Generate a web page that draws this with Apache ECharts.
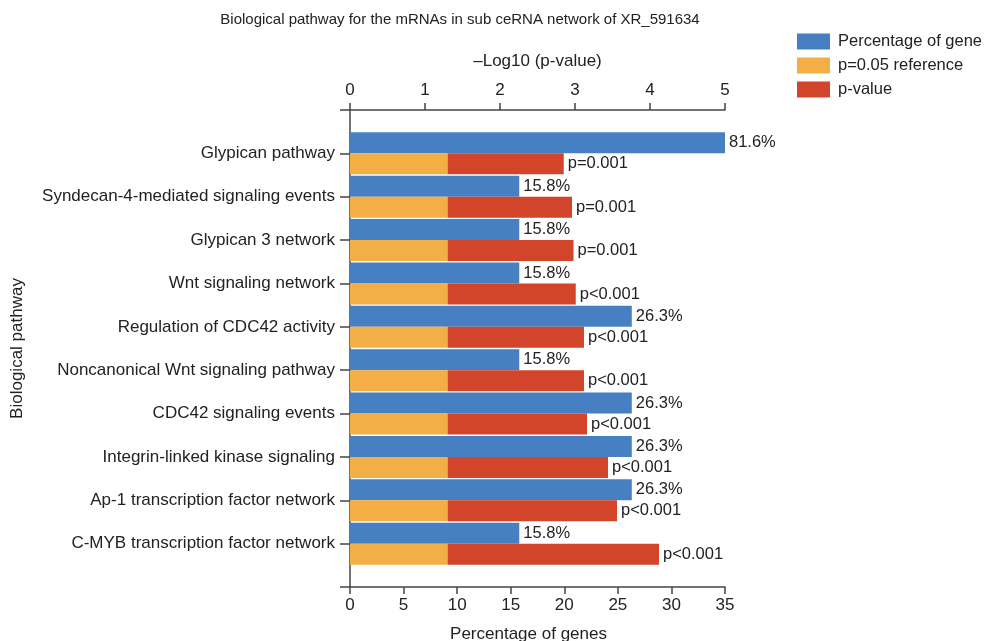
<!DOCTYPE html>
<html>
<head>
<meta charset="utf-8">
<script src="https://cdn.jsdelivr.net/npm/echarts@6/dist/echarts.min.js"></script>
<style>
  html, body { margin: 0; padding: 0; background: #fff; }
  #chart { width: 985px; height: 641px; }
</style>
</head>
<body>
<div id="chart"></div>
<script>
// Pathways, top to bottom
const categories = [
  'Glypican pathway',
  'Syndecan-4-mediated signaling events',
  'Glypican 3 network',
  'Wnt signaling network',
  'Regulation of CDC42 activity',
  'Noncanonical Wnt signaling pathway',
  'CDC42 signaling events',
  'Integrin-linked kinase signaling',
  'Ap-1 transcription factor network',
  'C-MYB transcription factor network'
];
// Percentage of genes in each pathway
const genePercent = [81.6, 15.8, 15.8, 15.8, 26.3, 15.8, 26.3, 26.3, 26.3, 15.8];
// -log10(p-value) for each pathway
const negLogP = [2.85, 2.96, 2.98, 3.01, 3.12, 3.12, 3.16, 3.44, 3.56, 4.12];
// Printed p-value text
const pLabels = ['p=0.001', 'p=0.001', 'p=0.001', 'p<0.001', 'p<0.001',
                 'p<0.001', 'p<0.001', 'p<0.001', 'p<0.001', 'p<0.001'];
// -log10(0.05) reference threshold
const refNegLog = 1.301;

// Axis ranges
const pctAxis = { min: 0, max: 35, interval: 5 };
const logAxis = { min: 0, max: 5, interval: 1 };

const FONT = "'Liberation Sans', Arial, sans-serif";
const TEXT = '#222';
const LINE = '#444';
const AXIS_FS = 17;
const LABEL_FS = 16.5;

// One empty slot above and below so the pathways sit inside the frame
const yData = [''].concat(categories, ['']);
const pad = arr => [null].concat(arr, [null]);

const refData = pad(categories.map(() => refNegLog));
const pExcess = pad(negLogP.map(v => +(v - refNegLog).toFixed(3)));

const chart = echarts.init(document.getElementById('chart'), null, { renderer: 'canvas' });

const valueAxisCommon = {
  type: 'value',
  splitLine: { show: false },
  axisLine: { show: true, lineStyle: { color: LINE, width: 1.5 } },
  axisTick: { show: true, length: 7, lineStyle: { color: LINE, width: 1.5 } },
  nameLocation: 'middle'
};

chart.setOption({
  animation: false,
  backgroundColor: '#fff',
  textStyle: { fontFamily: FONT },
  title: {
    text: 'Biological pathway for the mRNAs in sub ceRNA network of XR_591634',
    left: 455,
    textAlign: 'center',
    top: 7,
    textStyle: { color: TEXT, fontSize: 15, fontWeight: 'normal', fontFamily: FONT }
  },
  legend: {
    orient: 'vertical',
    left: 797,
    top: 33,
    padding: 0,
    itemWidth: 33,
    itemHeight: 16,
    itemGap: 7,
    icon: 'rect',
    textStyle: { color: TEXT, fontSize: LABEL_FS, fontFamily: FONT, padding: [0, 0, 0, 3] },
    data: ['Percentage of gene', 'p=0.05 reference', 'p-value']
  },
  grid: { left: 350, right: 260, top: 110, bottom: 54, containLabel: false, outerBoundsMode: 'none' },
  xAxis: [
    Object.assign({}, valueAxisCommon, {
      position: 'bottom',
      min: pctAxis.min, max: pctAxis.max, interval: pctAxis.interval,
      name: 'Percentage of genes',
      nameGap: 39,
      nameTextStyle: { color: TEXT, fontSize: AXIS_FS, fontFamily: FONT, padding: [0, 18, 0, 0] },
      axisLabel: { color: TEXT, fontSize: AXIS_FS, fontFamily: FONT, margin: 10 }
    }),
    Object.assign({}, valueAxisCommon, {
      position: 'top',
      min: logAxis.min, max: logAxis.max, interval: logAxis.interval,
      name: '\u2013Log10 (p-value)',
      nameGap: 40,
      nameTextStyle: { color: TEXT, fontSize: AXIS_FS, fontFamily: FONT },
      axisLabel: { color: TEXT, fontSize: AXIS_FS, fontFamily: FONT, margin: 11 }
    })
  ],
  yAxis: {
    type: 'category',
    data: yData,
    inverse: true,
    boundaryGap: false,
    axisLine: { show: true, lineStyle: { color: LINE, width: 1.5 } },
    axisTick: { show: true, length: 10, lineStyle: { color: LINE, width: 1.5 } },
    axisLabel: { color: TEXT, fontSize: AXIS_FS, fontFamily: FONT, margin: 15 },
    splitLine: { show: false },
    name: 'Biological pathway',
    nameLocation: 'middle',
    nameGap: 324,
    nameRotate: 90,
    nameTextStyle: { color: TEXT, fontSize: AXIS_FS, fontFamily: FONT }
  },
  series: [
    {
      name: 'Percentage of gene',
      type: 'bar',
      xAxisIndex: 0,
      barWidth: 21,
      barGap: '0%',
      itemStyle: { color: '#4680C2' },
      label: {
        show: true, position: 'right', distance: 4,
        color: TEXT, fontSize: LABEL_FS, fontFamily: FONT,
        formatter: p => p.value == null ? '' : p.value + '%'
      },
      data: pad(genePercent)
    },
    {
      name: 'p=0.05 reference',
      type: 'bar',
      xAxisIndex: 1,
      stack: 'p',
      barWidth: 21,
      barGap: '0%',
      itemStyle: { color: '#F3AE45' },
      data: refData
    },
    {
      name: 'p-value',
      type: 'bar',
      xAxisIndex: 1,
      stack: 'p',
      barWidth: 21,
      barGap: '0%',
      itemStyle: { color: '#D2452A' },
      label: {
        show: true, position: 'right', distance: 4,
        color: TEXT, fontSize: LABEL_FS, fontFamily: FONT,
        formatter: p => pLabels[p.dataIndex - 1] || ''
      },
      data: pExcess
    }
  ]
});
</script>
</body>
</html>
